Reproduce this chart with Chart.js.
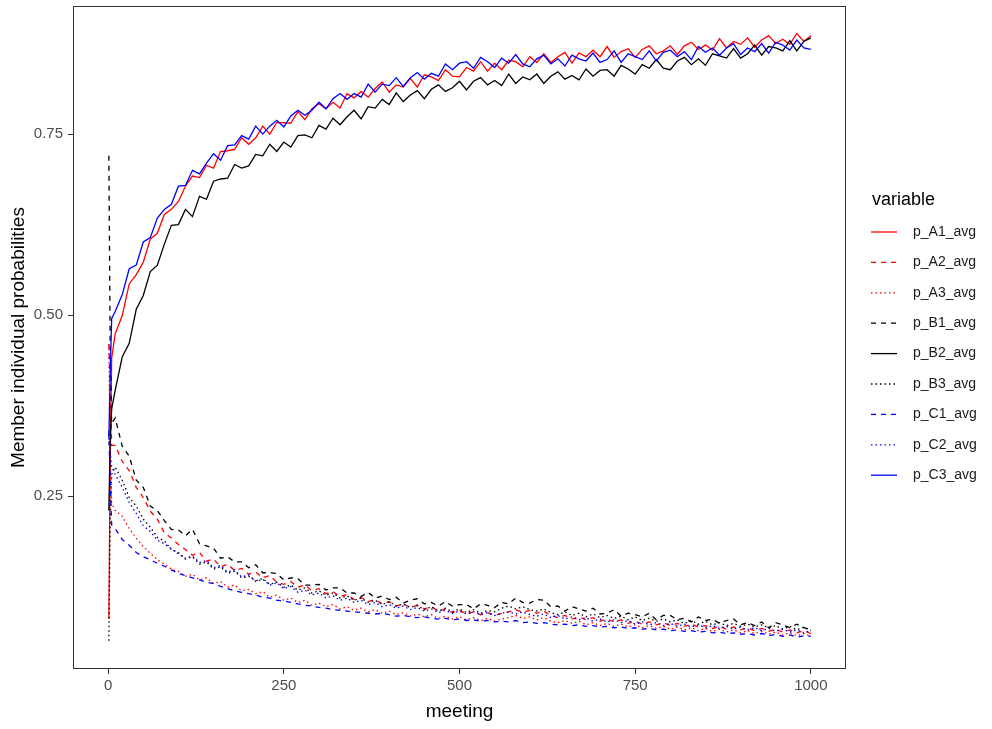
<!DOCTYPE html>
<html>
<head>
<meta charset="utf-8">
<script src="https://cdn.jsdelivr.net/npm/chart.js@4.4.1/dist/chart.umd.min.js"></script>
<style>
  html, body { margin: 0; padding: 0; background: #fff; }
  #wrap { width: 992px; height: 729px; }
</style>
</head>
<body>
<div id="wrap"><canvas id="chartProb" width="992" height="729"></canvas></div>
<script>
// meetings
var meetings = [1,3,5,
  10,20,30,40,50,60,70,80,90,100,
  110,120,130,140,150,160,170,180,190,200,
  210,220,230,240,250,260,270,280,290,300,
  310,320,330,340,350,360,370,380,390,400,
  410,420,430,440,450,460,470,480,490,500,
  510,520,530,540,550,560,570,580,590,600,
  610,620,630,640,650,660,670,680,690,700,
  710,720,730,740,750,760,770,780,790,800,
  810,820,830,840,850,860,870,880,890,900,
  910,920,930,940,950,960,970,980,990,1000];

var p_A1_avg = [0.08,0.30,0.44,
  0.474,0.499,0.543,0.556,0.573,0.605,0.613,0.639,0.646,0.657,
  0.678,0.692,0.69,0.707,0.703,0.726,0.727,0.729,0.745,0.736,
  0.745,0.761,0.75,0.766,0.766,0.765,0.781,0.77,0.785,0.792,
  0.785,0.794,0.786,0.806,0.8,0.809,0.801,0.813,0.822,0.808,
  0.818,0.815,0.827,0.815,0.832,0.829,0.824,0.839,0.83,0.829,
  0.842,0.837,0.85,0.837,0.848,0.839,0.852,0.85,0.843,0.857,
  0.849,0.861,0.849,0.857,0.863,0.848,0.862,0.857,0.866,0.857,
  0.871,0.856,0.864,0.868,0.856,0.867,0.872,0.861,0.865,0.872,
  0.86,0.872,0.877,0.867,0.873,0.866,0.882,0.869,0.878,0.874,
  0.883,0.87,0.88,0.886,0.875,0.881,0.874,0.889,0.878,0.886];

var p_A2_avg = [0.46,0.40,0.32,
  0.32,0.298,0.285,0.262,0.248,0.229,0.218,0.199,0.192,0.183,
  0.176,0.168,0.172,0.16,0.163,0.152,0.156,0.147,0.15,0.142,
  0.145,0.137,0.14,0.131,0.128,0.132,0.124,0.127,0.119,0.122,
  0.115,0.118,0.111,0.114,0.107,0.11,0.104,0.107,0.101,0.104,
  0.098,0.101,0.096,0.099,0.094,0.097,0.091,0.094,0.089,0.092,
  0.087,0.09,0.086,0.089,0.085,0.088,0.09,0.093,0.089,0.092,
  0.088,0.091,0.085,0.082,0.085,0.08,0.083,0.079,0.082,0.077,
  0.08,0.076,0.079,0.074,0.077,0.073,0.076,0.072,0.075,0.071,
  0.074,0.07,0.073,0.069,0.071,0.067,0.07,0.066,0.069,0.065,
  0.068,0.064,0.067,0.063,0.066,0.062,0.065,0.061,0.064,0.06];

var p_A3_avg = [0.46,0.30,0.24,
  0.23,0.222,0.205,0.192,0.18,0.171,0.162,0.156,0.149,0.146,
  0.139,0.142,0.134,0.137,0.129,0.132,0.124,0.127,0.119,0.121,
  0.115,0.118,0.11,0.113,0.106,0.109,0.103,0.106,0.099,0.102,
  0.097,0.1,0.094,0.097,0.092,0.095,0.09,0.093,0.088,0.091,
  0.086,0.089,0.084,0.087,0.083,0.086,0.081,0.084,0.08,0.083,
  0.079,0.082,0.078,0.081,0.077,0.08,0.082,0.085,0.081,0.083,
  0.079,0.082,0.077,0.075,0.078,0.074,0.077,0.072,0.075,0.071,
  0.074,0.07,0.073,0.069,0.072,0.068,0.071,0.067,0.07,0.066,
  0.069,0.065,0.068,0.064,0.067,0.063,0.066,0.062,0.065,0.061,
  0.064,0.06,0.063,0.059,0.062,0.058,0.061,0.057,0.06,0.056];

var p_B1_avg = [0.72,0.45,0.35,
  0.358,0.319,0.305,0.272,0.262,0.236,0.23,0.216,0.204,0.203,
  0.195,0.204,0.184,0.181,0.178,0.164,0.166,0.159,0.159,0.151,
  0.155,0.144,0.144,0.143,0.134,0.137,0.136,0.127,0.127,0.128,
  0.12,0.123,0.123,0.116,0.116,0.111,0.117,0.109,0.112,0.107,
  0.11,0.102,0.106,0.108,0.101,0.103,0.098,0.104,0.098,0.1,
  0.1,0.094,0.101,0.099,0.096,0.103,0.101,0.109,0.103,0.102,
  0.107,0.106,0.097,0.098,0.091,0.097,0.094,0.091,0.095,0.087,
  0.088,0.093,0.084,0.088,0.086,0.083,0.088,0.079,0.085,0.085,
  0.079,0.081,0.076,0.083,0.078,0.08,0.074,0.078,0.08,0.072,
  0.075,0.071,0.076,0.068,0.075,0.072,0.068,0.073,0.068,0.065];

var p_B2_avg = [0.23,0.33,0.37,
  0.396,0.442,0.461,0.508,0.527,0.56,0.569,0.598,0.624,0.625,
  0.646,0.636,0.664,0.66,0.685,0.688,0.689,0.708,0.703,0.706,
  0.722,0.72,0.736,0.726,0.739,0.732,0.748,0.749,0.745,0.762,
  0.757,0.772,0.763,0.774,0.783,0.771,0.788,0.786,0.798,0.791,
  0.807,0.795,0.804,0.81,0.799,0.812,0.818,0.809,0.814,0.823,
  0.811,0.823,0.828,0.818,0.824,0.817,0.833,0.82,0.829,0.825,
  0.833,0.82,0.83,0.836,0.826,0.831,0.825,0.84,0.83,0.838,
  0.839,0.83,0.845,0.84,0.833,0.846,0.841,0.853,0.841,0.839,
  0.851,0.856,0.846,0.854,0.845,0.861,0.858,0.855,0.868,0.855,
  0.861,0.873,0.859,0.871,0.869,0.865,0.879,0.865,0.878,0.883];

var p_B3_avg = [0.05,0.22,0.28,
  0.29,0.272,0.248,0.236,0.218,0.207,0.193,0.188,0.176,0.172,
  0.163,0.166,0.156,0.159,0.149,0.152,0.143,0.146,0.137,0.139,
  0.133,0.136,0.128,0.131,0.124,0.127,0.12,0.123,0.116,0.119,
  0.113,0.116,0.109,0.112,0.106,0.109,0.103,0.106,0.1,0.104,
  0.098,0.101,0.096,0.099,0.093,0.097,0.091,0.095,0.09,0.094,
  0.089,0.093,0.088,0.092,0.09,0.095,0.098,0.094,0.097,0.093,
  0.091,0.094,0.089,0.086,0.09,0.085,0.088,0.083,0.087,0.082,
  0.085,0.081,0.084,0.079,0.083,0.078,0.081,0.077,0.08,0.076,
  0.079,0.074,0.078,0.073,0.077,0.072,0.075,0.071,0.074,0.07,
  0.073,0.069,0.072,0.068,0.071,0.066,0.07,0.065,0.069,0.064];

var p_C1_avg = [0.34,0.27,0.21,
  0.205,0.19,0.182,0.172,0.166,0.162,0.157,0.153,0.148,0.143,
  0.14,0.137,0.134,0.131,0.129,0.125,0.122,0.119,0.117,0.115,
  0.113,0.11,0.109,0.106,0.105,0.103,0.101,0.099,0.098,0.096,
  0.095,0.093,0.092,0.091,0.09,0.089,0.088,0.087,0.088,0.086,
  0.084,0.085,0.083,0.082,0.083,0.081,0.08,0.081,0.079,0.08,
  0.078,0.079,0.077,0.078,0.076,0.077,0.076,0.078,0.075,0.076,
  0.074,0.075,0.073,0.072,0.073,0.071,0.072,0.07,0.071,0.069,
  0.07,0.068,0.069,0.067,0.068,0.066,0.067,0.065,0.066,0.064,
  0.065,0.063,0.064,0.062,0.063,0.061,0.062,0.06,0.061,0.059,
  0.06,0.058,0.06,0.057,0.059,0.056,0.058,0.055,0.057,0.056];

var p_C2_avg = [0.33,0.31,0.29,
  0.28,0.262,0.241,0.226,0.209,0.201,0.189,0.184,0.177,0.17,
  0.164,0.167,0.158,0.161,0.151,0.154,0.145,0.148,0.138,0.141,
  0.132,0.135,0.127,0.13,0.122,0.125,0.117,0.12,0.113,0.116,
  0.109,0.112,0.106,0.109,0.103,0.106,0.1,0.103,0.097,0.1,
  0.095,0.098,0.093,0.096,0.091,0.094,0.089,0.092,0.088,0.091,
  0.087,0.09,0.086,0.089,0.085,0.088,0.09,0.087,0.09,0.086,
  0.084,0.087,0.082,0.085,0.08,0.083,0.079,0.082,0.077,0.08,
  0.076,0.079,0.075,0.078,0.073,0.076,0.072,0.075,0.071,0.074,
  0.07,0.073,0.069,0.072,0.068,0.071,0.067,0.07,0.066,0.069,
  0.065,0.068,0.064,0.067,0.063,0.066,0.062,0.065,0.061,0.064];

var p_C3_avg = [0.33,0.42,0.495,
  0.505,0.528,0.564,0.569,0.601,0.607,0.634,0.646,0.653,0.678,
  0.679,0.70,0.695,0.71,0.723,0.714,0.734,0.735,0.748,0.743,
  0.761,0.75,0.761,0.769,0.76,0.775,0.783,0.776,0.783,0.794,
  0.785,0.799,0.806,0.798,0.806,0.801,0.819,0.808,0.819,0.817,
  0.828,0.816,0.828,0.835,0.826,0.834,0.83,0.847,0.839,0.848,
  0.85,0.841,0.856,0.85,0.842,0.855,0.848,0.86,0.847,0.843,
  0.854,0.859,0.847,0.854,0.844,0.859,0.854,0.851,0.862,0.849,
  0.853,0.865,0.849,0.861,0.857,0.853,0.865,0.851,0.863,0.866,
  0.857,0.864,0.853,0.871,0.863,0.869,0.859,0.869,0.875,0.86,
  0.869,0.864,0.875,0.862,0.877,0.873,0.866,0.88,0.869,0.867];

var seriesNames = ['p_A1_avg','p_A2_avg','p_A3_avg','p_B1_avg','p_B2_avg','p_B3_avg','p_C1_avg','p_C2_avg','p_C3_avg'];
var seriesValues = [p_A1_avg, p_A2_avg, p_A3_avg, p_B1_avg, p_B2_avg, p_B3_avg, p_C1_avg, p_C2_avg, p_C3_avg];
var xTicks = [0, 250, 500, 750, 1000];
var yTicks = [0.25, 0.50, 0.75];

var colours = ['#ff0000','#ff0000','#ff0000','#000000','#000000','#000000','#0000ff','#0000ff','#0000ff'];
var dashes = [[], [5, 5], [1.5, 3], [5, 5], [], [1.5, 3], [5, 5], [1.5, 3], []];

var datasets = seriesNames.map(function (name, i) {
    return {
        label: name,
        data: meetings.map(function (m, j) { return {x: m, y: seriesValues[i][j]}; }),
        borderColor: colours[i],
        backgroundColor: colours[i],
        borderWidth: 1.3,
        borderDash: dashes[i],
        pointRadius: 0,
        tension: 0,
        fill: false,
        order: seriesNames.length - i   // ggplot draws later groups on top
    };
});

// white background + panel border
var panelPlugin = {
    id: 'panel',
    beforeDraw: function (chart) {
        var c = chart.ctx;
        c.save();
        c.fillStyle = '#ffffff';
        c.fillRect(0, 0, chart.width, chart.height);
        c.restore();
    },
    afterDraw: function (chart) {
        var a = chart.chartArea, c = chart.ctx;
        c.save();
        c.strokeStyle = '#333333';
        c.lineWidth = 1;
        c.strokeRect(Math.round(a.left) + 0.5, Math.round(a.top) + 0.5,
            Math.round(a.right - a.left) - 1, Math.round(a.bottom - a.top) - 1);
        c.restore();
    }
};

// ggplot-like legend on the right
var legendPlugin = {
    id: 'ggLegend',
    afterDraw: function (chart) {
        var c = chart.ctx;
        var ds = chart.data.datasets;
        c.save();
        c.textBaseline = 'middle';
        c.textAlign = 'left';
        c.fillStyle = '#000000';
        c.font = '18px "Liberation Sans", Arial, sans-serif';
        c.fillText('variable', 872, 200);
        c.font = '14px "Liberation Sans", Arial, sans-serif';
        for (var i = 0; i < ds.length; i++) {
            var y = 232 + i * 30.4;
            c.strokeStyle = ds[i].borderColor;
            c.lineWidth = 1.3;
            c.setLineDash(ds[i].borderDash);
            c.beginPath();
            c.moveTo(871, y);
            c.lineTo(897, y);
            c.stroke();
            c.setLineDash([]);
            c.fillStyle = '#1a1a1a';
            c.fillText(ds[i].label, 913, y);
        }
        c.restore();
    }
};

new Chart(document.getElementById('chartProb').getContext('2d'), {
    type: 'line',
    data: { datasets: datasets },
    plugins: [panelPlugin, legendPlugin],
    options: {
        responsive: false,
        animation: false,
        layout: { padding: { top: 6, right: 146, bottom: 0, left: 0 } },
        plugins: {
            legend: { display: false },
            tooltip: { enabled: false }
        },
        scales: {
            x: {
                type: 'linear',
                min: -50,
                max: 1050,
                afterBuildTicks: function (s) { s.ticks = xTicks.map(function (v) { return {value: v}; }); },
                afterFit: function (s) { s.height = 60; s.paddingLeft = 0; s.paddingRight = 0; },
                grid: { drawOnChartArea: false, drawTicks: true, tickLength: 5, color: '#333333' },
                border: { display: false },
                ticks: {
                    padding: 3,
                    maxRotation: 0,
                    color: '#4d4d4d',
                    font: { family: '"Liberation Sans", Arial, sans-serif', size: 15 },
                    callback: function (v) { return String(v); }
                },
                title: {
                    display: true,
                    text: 'meeting',
                    color: '#000000',
                    padding: { top: 0, bottom: 6 },
                    font: { family: '"Liberation Sans", Arial, sans-serif', size: 19 }
                }
            },
            y: {
                type: 'linear',
                min: 0.011,
                max: 0.927,
                afterBuildTicks: function (s) { s.ticks = yTicks.map(function (v) { return {value: v}; }); },
                afterFit: function (s) { s.width = 73; s.paddingTop = 0; s.paddingBottom = 0; },
                grid: { drawOnChartArea: false, drawTicks: true, tickLength: 5, color: '#333333' },
                border: { display: false },
                ticks: {
                    padding: 5,
                    color: '#4d4d4d',
                    font: { family: '"Liberation Sans", Arial, sans-serif', size: 15 },
                    callback: function (v) { return Number(v).toFixed(2); }
                },
                title: {
                    display: true,
                    text: 'Member individual probabilities',
                    color: '#000000',
                    padding: { top: 7, bottom: 0 },
                    font: { family: '"Liberation Sans", Arial, sans-serif', size: 19 }
                }
            }
        }
    }
});
</script>
</body>
</html>
